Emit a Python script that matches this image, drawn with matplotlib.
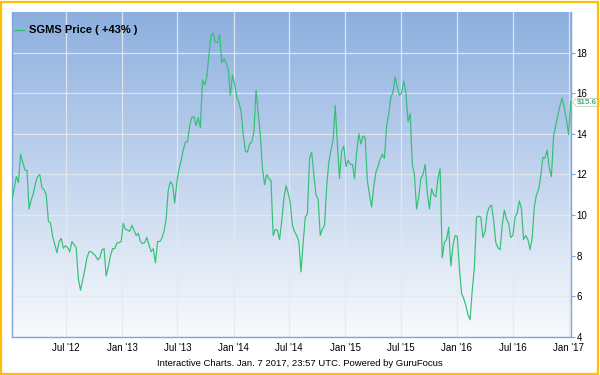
import numpy as np
import pandas as pd
import matplotlib
matplotlib.use("Agg")
import matplotlib.pyplot as plt
import matplotlib.dates as mdates
from matplotlib.patches import Rectangle, Polygon

# ---- data: weekly closing prices of SGMS, Jan 2012 - Jan 2017 ----
start_date = "2012-01-07"
prices = [
    10.75, 11.3, 11.9, 11.6, 13.0, 12.6, 12.23, 12.2, 10.3, 10.75,
    11.08, 11.6, 11.9, 12.0, 11.35, 11.24, 11.0, 9.7, 9.6, 8.94,
    8.54, 8.15, 8.7, 8.86, 8.37, 8.5, 8.4, 8.2, 8.7, 8.55,
    8.4, 6.85, 6.3, 6.8, 7.3, 7.9, 8.2, 8.2, 8.1, 8.0,
    7.8, 7.9, 8.29, 8.35, 7.0, 7.46, 8.0, 8.35, 8.35, 8.62,
    8.65, 8.7, 9.6, 9.3, 9.27, 9.2, 9.5, 9.25, 9.0, 9.1,
    8.7, 8.6, 8.65, 8.9, 8.53, 8.2, 8.35, 7.65, 8.7, 8.7,
    8.85, 9.2, 9.8, 11.24, 11.65, 11.5, 10.6, 11.6, 12.25, 12.7,
    13.2, 13.6, 13.6, 14.4, 14.8, 14.85, 14.4, 14.8, 14.3, 16.67,
    16.4, 16.8, 17.9, 18.85, 18.97, 18.5, 18.5, 18.9, 17.5, 17.7,
    17.5, 17.2, 15.9, 16.9, 16.45, 15.8, 15.55, 15.1, 14.0, 13.15,
    13.1, 13.5, 13.6, 14.1, 16.15, 15.05, 13.96, 12.3, 11.5, 12.0,
    11.8, 11.7, 9.0, 9.3, 9.25, 8.8, 9.7, 10.8, 11.45, 11.1,
    10.6, 9.5, 9.18, 9.0, 8.7, 7.2, 8.6, 9.9, 10.05, 12.8,
    13.1, 12.0, 11.0, 10.8, 9.0, 9.3, 9.5, 11.4, 12.6, 13.2,
    13.7, 15.4, 13.5, 11.8, 13.15, 13.4, 12.4, 12.7, 12.5, 12.5,
    11.8, 13.1, 14.0, 13.5, 13.9, 13.8, 11.7, 11.0, 10.4, 11.4,
    12.1, 12.4, 12.75, 13.0, 12.8, 14.4, 15.0, 15.8, 16.05, 16.8,
    16.3, 15.9, 16.0, 16.6, 16.05, 14.6, 15.0, 12.5, 12.0, 10.3,
    10.9, 11.8, 12.0, 12.5, 11.1, 10.3, 11.3, 11.0, 10.9, 11.8,
    12.3, 7.9, 8.65, 8.8, 9.4, 7.5, 8.5, 9.0, 8.95, 7.4,
    6.15, 5.9, 5.55, 5.1, 4.85, 6.3, 7.4, 9.9, 9.95, 9.9,
    8.9, 9.2, 10.1, 10.4, 10.5, 9.75, 8.65, 8.4, 8.3, 9.5,
    10.25, 9.8, 9.6, 8.9, 9.0, 9.9, 10.1, 10.7, 10.3, 8.8,
    9.0, 8.8, 8.3, 8.85, 10.4, 11.0, 11.25, 11.9, 12.85, 12.8,
    13.2, 12.3, 11.9, 13.9, 14.4, 14.9, 15.4, 15.75, 15.3, 14.7,
    13.96, 15.6,
]
dates = pd.date_range(start_date, periods=len(prices), freq="7D")
series_label = "SGMS Price ( +43% )"
last_label = "$15.6"
y_ticks = [4, 6, 8, 10, 12, 14, 16, 18]
x_tick_dates = pd.to_datetime(["2012-07-01", "2013-01-01", "2013-07-01", "2014-01-01",
                               "2014-07-01", "2015-01-01", "2015-07-01", "2016-01-01",
                               "2016-07-01", "2017-01-01"])
x_tick_labels = ["Jul '12", "Jan '13", "Jul '13", "Jan '14", "Jul '14",
                 "Jan '15", "Jul '15", "Jan '16", "Jul '16", "Jan '17"]
footer = "Interactive Charts. Jan. 7 2017, 23:57 UTC. Powered by GuruFocus"

# ---- styling ----
line_color = "#34BF74"
axis_blue = "#7FA6DA"
font = ["Liberation Sans", "DejaVu Sans"]

fig = plt.figure(figsize=(6, 3.75), dpi=100)
fig.patch.set_facecolor("white")
ax = fig.add_axes([12 / 600, 1 - 337 / 375, (571 - 12) / 600, (337 - 12) / 375])

# gradient background
grad = np.linspace(0, 1, 256).reshape(-1, 1)
top = np.array([0x8C, 0xAF, 0xDF]) / 255
bot = np.array([0xF8, 0xFA, 0xFD]) / 255
img = top[None, None, :] * (1 - grad[..., None]) + bot[None, None, :] * grad[..., None]
ax.imshow(img, extent=[0, 1, 0, 1], transform=ax.transAxes, aspect="auto",
          zorder=0, origin="upper")

ax.plot(dates, prices, color=line_color, lw=0.85, zorder=3)

ax.set_xlim(pd.Timestamp("2012-01-07"), pd.Timestamp("2017-01-08"))
ax.set_ylim(4, 20)

ax.set_yticks(y_ticks)
ax.yaxis.tick_right()
ax.tick_params(axis="y", direction="out", length=3, width=0.8, color=axis_blue,
               labelsize=7, pad=1)
ax.set_xticks(x_tick_dates)
ax.set_xticklabels(x_tick_labels)
ax.tick_params(axis="x", length=0, labelsize=7, pad=4)
for lbl in ax.get_xticklabels() + ax.get_yticklabels():
    lbl.set_fontfamily(font)

ax.grid(True, color="#E4E9F0", lw=0.9, alpha=0.9, zorder=1)
for gl in ax.get_xgridlines() + ax.get_ygridlines():
    gl.set_zorder(1)

for s in ["left", "right", "bottom"]:
    ax.spines[s].set_color(axis_blue)
    ax.spines[s].set_linewidth(1.0)
ax.spines["top"].set_visible(False)

# legend
ax.plot([0.004, 0.022], [0.945, 0.945], transform=ax.transAxes, color=line_color,
        lw=1.0, zorder=4, clip_on=False)
ax.text(0.03, 0.945, series_label, transform=ax.transAxes, fontsize=8,
        fontweight="bold", va="center", ha="left", family=font, zorder=4)

# last price tag
yv = prices[-1]
ytag = ax.transData.transform((mdates.date2num(dates[-1]), yv))[1]
fy = ytag / fig.bbox.height - 1 / 375
x0, x1 = 573 / 600, 599 / 600
h = 8 / 375
tag = Polygon([(x0, fy), (x0 + 3 / 600, fy + h / 2), (x1, fy + h / 2),
               (x1, fy - h / 2), (x0 + 3 / 600, fy - h / 2)],
              closed=True, transform=fig.transFigure, facecolor="white",
              edgecolor="#C8C8C8", lw=0.6, zorder=5)
fig.add_artist(tag)
fig.text(x0 + 3.5 / 600, fy, last_label, color=line_color, fontsize=5.8,
         va="center", ha="left", family=font, fontweight="bold", zorder=6)

# footer
fig.text(0.5, 1 - 363 / 375, footer, fontsize=6.8, ha="center", va="center",
         family=font)

# yellow frame
fig.add_artist(Rectangle((1 / 600, 1 / 375), 597 / 600, 372 / 375,
                         transform=fig.transFigure, fill=False,
                         edgecolor="#FFC000", lw=1.6, zorder=10))

fig.savefig("out.png", dpi=100)
